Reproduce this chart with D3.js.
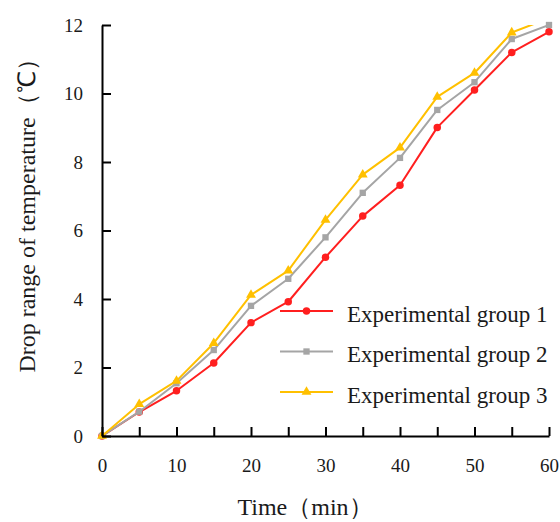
<!DOCTYPE html>
<html>
<head>
<meta charset="utf-8">
<script src="https://cdn.jsdelivr.net/npm/d3@7"></script>
<style>
  html, body { margin: 0; padding: 0; background: #fff; }
  svg { display: block; }
  text { font-family: "Liberation Serif", "Times New Roman", serif; fill: #1a1a1a; }
</style>
</head>
<body>
<svg id="chart" width="560" height="522"></svg>
<script>
const times = [0, 5, 10, 15, 20, 25, 30, 35, 40, 45, 50, 55, 60];
const group1 = [0, 0.7, 1.32, 2.13, 3.31, 3.92, 5.22, 6.42, 7.32, 9.01, 10.1, 11.2, 11.8];
const group2 = [0, 0.71, 1.54, 2.51, 3.8, 4.59, 5.8, 7.1, 8.12, 9.52, 10.33, 11.59, 12.0];
const group3 = [0, 0.93, 1.61, 2.71, 4.12, 4.83, 6.31, 7.63, 8.42, 9.9, 10.6, 11.78, 12.2];
const seriesNames = ["Experimental group 1", "Experimental group 2", "Experimental group 3"];
const seriesColors = ["#ff1f1f", "#a5a5a5", "#ffc000"];
const seriesShapes = ["circle", "square", "triangle"];
const yTicks = [0, 2, 4, 6, 8, 10, 12];
const xTicks = [0, 5, 10, 15, 20, 25, 30, 35, 40, 45, 50, 55, 60];
const xTitle = "Time（min）";
const yTitle = "Drop range of temperature（℃）";

const svg = d3.select("#chart");
const x = d3.scaleLinear().domain([0, 60]).range([102, 549]);
const y = d3.scaleLinear().domain([0, 12]).range([436, 25]);

svg.append("defs").append("clipPath").attr("id", "plotclip")
  .append("rect").attr("x", x(0)).attr("y", y(12)).attr("width", x(60) - x(0)).attr("height", y(0) - y(12));

const data = [group1, group2, group3];
const symbolType = { circle: d3.symbolCircle, square: d3.symbolSquare, triangle: d3.symbolTriangle };
const symbolSize = { circle: 44, square: 40, triangle: 42 };

data.forEach((vals, i) => {
  const pts = times.map((t, j) => [t, vals[j]]);
  svg.append("path")
    .datum(pts)
    .attr("clip-path", "url(#plotclip)")
    .attr("fill", "none")
    .attr("stroke", seriesColors[i])
    .attr("stroke-width", 2)
    .attr("stroke-linejoin", "round")
    .attr("d", d3.line().x(d => x(d[0])).y(d => y(d[1])));
  svg.append("g").selectAll("path")
    .data(pts.filter(d => d[1] <= 12))
    .join("path")
    .attr("transform", d => `translate(${x(d[0])},${y(d[1])})`)
    .attr("fill", seriesColors[i])
    .attr("d", d3.symbol().type(symbolType[seriesShapes[i]]).size(symbolSize[seriesShapes[i]]));
});

const yAxis = d3.axisLeft(y).tickValues(yTicks).tickSizeInner(-9).tickSizeOuter(0).tickPadding(19);
const gy = svg.append("g").attr("transform", `translate(${x(0)},0)`).call(yAxis);
gy.select(".domain").attr("stroke", "#000").attr("stroke-width", 2);
gy.selectAll(".tick line").attr("stroke", "#000").attr("stroke-width", 2);
gy.selectAll(".tick text").attr("font-size", 19).attr("font-family", "Liberation Serif").attr("fill", "#1a1a1a");

const xAxis = d3.axisBottom(x).tickValues(xTicks).tickSizeInner(-9).tickSizeOuter(0).tickPadding(23)
  .tickFormat(d => d % 10 === 0 ? d : "");
const gx = svg.append("g").attr("transform", `translate(0,${y(0)})`).call(xAxis);
gx.select(".domain").attr("stroke", "#000").attr("stroke-width", 2);
gx.selectAll(".tick line").attr("stroke", "#000").attr("stroke-width", 2);
gx.selectAll(".tick text").attr("font-size", 19).attr("font-family", "Liberation Serif").attr("fill", "#1a1a1a");

svg.append("text")
  .attr("x", 305).attr("y", 515)
  .attr("text-anchor", "middle")
  .attr("font-size", 24)
  .text(xTitle);

svg.append("text")
  .attr("transform", "translate(35,210) rotate(-90)")
  .attr("text-anchor", "middle")
  .attr("font-size", 24)
  .text(yTitle);

const legY = [311, 351.5, 392];
seriesNames.forEach((name, i) => {
  const g = svg.append("g").attr("transform", `translate(0,${legY[i]})`);
  g.append("line").attr("x1", 280).attr("x2", 333).attr("y1", 0).attr("y2", 0)
    .attr("stroke", seriesColors[i]).attr("stroke-width", 2);
  g.append("path").attr("transform", "translate(306.5,0)")
    .attr("fill", seriesColors[i])
    .attr("d", d3.symbol().type(symbolType[seriesShapes[i]]).size(symbolSize[seriesShapes[i]]));
  g.append("text").attr("x", 347).attr("y", 5.5)
    .attr("font-size", 23)
    .attr("dominant-baseline", "middle")
    .text(name);
});
</script>
</body>
</html>
